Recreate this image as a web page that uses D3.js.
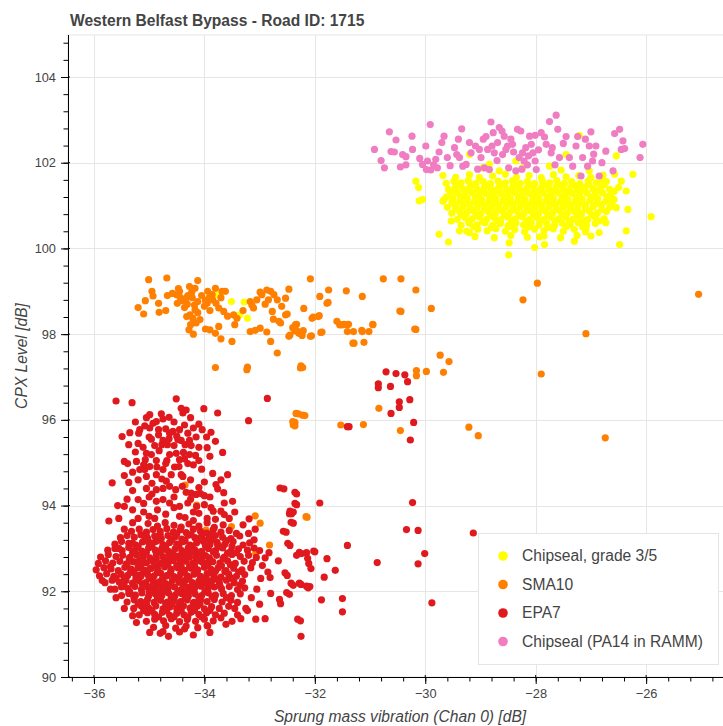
<!DOCTYPE html>
<html><head><meta charset="utf-8">
<script src="https://cdn.jsdelivr.net/npm/d3@7"></script>
<style>body{margin:0;background:#fff}svg{display:block}text{font-family:"Liberation Sans",Arial,Helvetica,sans-serif}</style>
</head><body><svg id="c" width="723" height="726"></svg>
<script>
const title = "Western Belfast Bypass - Road ID: 1715";
const xLabel = "Sprung mass vibration (Chan 0) [dB]";
const yLabel = "CPX Level [dB]";
const xTicks = [-36,-34,-32,-30,-28,-26];
const yTicks = [90,92,94,96,98,100,102,104];
const seriesNames = ["Chipseal, grade 3/5","SMA10","EPA7","Chipseal (PA14 in RAMM)"];
const seriesColors = ["#ffff00","#ff8000","#e0191e","#f07cc2"];

const chipsealPoints = [
[-29.68,101.7],[-29.45,101.66],[-29.2,101.72],[-29.02,101.65],[-28.78,101.69],[-28.55,101.73],[-28.35,101.66],[-28.12,101.7],[-27.9,101.65],[-27.68,101.72],[-27.45,101.67],[-27.22,101.7],[-27.0,101.65],[-26.78,101.71],
[-29.62,101.52],[-29.48,101.57],[-29.35,101.53],[-29.22,101.58],[-29.08,101.52],[-28.95,101.56],[-28.82,101.51],[-28.68,101.57],[-28.55,101.53],[-28.42,101.58],[-28.28,101.52],[-28.15,101.56],[-28.02,101.51],[-27.88,101.57],[-27.75,101.53],[-27.62,101.58],[-27.48,101.52],[-27.35,101.56],[-27.2,101.51],[-27.05,101.57],[-26.9,101.53],[-26.72,101.56],
[-29.58,101.38],[-29.45,101.43],[-29.32,101.39],[-29.19,101.44],[-29.06,101.38],[-28.93,101.42],[-28.8,101.37],[-28.67,101.43],[-28.54,101.39],[-28.41,101.44],[-28.28,101.38],[-28.15,101.42],[-28.02,101.37],[-27.89,101.43],[-27.76,101.39],[-27.63,101.44],[-27.5,101.38],[-27.37,101.42],[-27.24,101.37],[-27.1,101.43],[-26.96,101.39],[-26.82,101.44],[-26.66,101.38],[-26.5,101.42],
[-29.55,101.24],[-29.42,101.29],[-29.29,101.25],[-29.16,101.3],[-29.03,101.24],[-28.9,101.28],[-28.77,101.23],[-28.64,101.29],[-28.51,101.25],[-28.38,101.3],[-28.25,101.24],[-28.12,101.28],[-27.99,101.23],[-27.86,101.29],[-27.73,101.25],[-27.6,101.3],[-27.47,101.24],[-27.34,101.28],[-27.21,101.23],[-27.07,101.29],[-26.93,101.25],[-26.79,101.3],[-26.64,101.24],
[-29.68,101.1],[-29.5,101.15],[-29.37,101.11],[-29.24,101.16],[-29.11,101.1],[-28.98,101.14],[-28.85,101.09],[-28.72,101.15],[-28.59,101.11],[-28.46,101.16],[-28.33,101.1],[-28.2,101.14],[-28.07,101.09],[-27.94,101.15],[-27.81,101.11],[-27.68,101.16],[-27.55,101.1],[-27.42,101.14],[-27.29,101.09],[-27.16,101.15],[-27.02,101.11],[-26.88,101.16],[-26.73,101.1],[-26.58,101.14],
[-29.6,100.96],[-29.45,101.01],[-29.32,100.97],[-29.19,101.02],[-29.06,100.96],[-28.93,101.0],[-28.8,100.95],[-28.67,101.01],[-28.54,100.97],[-28.41,101.02],[-28.28,100.96],[-28.15,101.0],[-28.02,100.95],[-27.89,101.01],[-27.76,100.97],[-27.63,101.02],[-27.5,100.96],[-27.37,101.0],[-27.24,100.95],[-27.1,101.01],[-26.96,100.97],[-26.81,101.02],[-26.66,100.96],
[-29.52,100.82],[-29.38,100.87],[-29.25,100.83],[-29.12,100.88],[-28.99,100.82],[-28.86,100.86],[-28.73,100.81],[-28.6,100.87],[-28.47,100.83],[-28.34,100.88],[-28.21,100.82],[-28.08,100.86],[-27.95,100.81],[-27.82,100.87],[-27.69,100.83],[-27.56,100.88],[-27.43,100.82],[-27.3,100.86],[-27.17,100.81],[-27.03,100.87],[-26.88,100.83],[-26.72,100.86],
[-29.42,100.68],[-29.28,100.73],[-29.15,100.69],[-29.02,100.74],[-28.89,100.68],[-28.76,100.72],[-28.63,100.67],[-28.5,100.73],[-28.37,100.69],[-28.24,100.74],[-28.11,100.68],[-27.98,100.72],[-27.85,100.67],[-27.72,100.73],[-27.59,100.69],[-27.46,100.74],[-27.33,100.68],[-27.2,100.72],[-27.06,100.67],[-26.92,100.73],[-26.76,100.69],
[-29.35,100.54],[-29.2,100.59],[-29.06,100.55],[-28.92,100.6],[-28.78,100.54],[-28.64,100.58],[-28.5,100.53],[-28.36,100.59],[-28.22,100.55],[-28.08,100.6],[-27.94,100.54],[-27.8,100.58],[-27.66,100.53],[-27.52,100.59],[-27.38,100.55],[-27.23,100.6],[-27.08,100.54],[-26.92,100.58],
[-29.25,100.4],[-29.05,100.45],[-28.88,100.41],[-28.72,100.46],[-28.55,100.4],[-28.38,100.44],[-28.2,100.39],[-28.02,100.45],[-27.85,100.41],[-27.68,100.46],[-27.5,100.4],[-27.3,100.44],[-27.1,100.39],
[-29.1,100.28],[-28.75,100.25],[-28.45,100.3],[-28.15,100.26],[-27.85,100.29],[-27.55,100.25],[-27.25,100.3],
[-29.4,101.48],[-29.13,101.49],[-28.87,101.47],[-28.61,101.49],[-28.35,101.48],[-28.08,101.47],[-27.82,101.49],[-27.56,101.48],[-27.3,101.47],[-27.03,101.49],[-26.76,101.48],
[-29.48,101.34],[-29.23,101.35],[-28.97,101.33],[-28.71,101.35],[-28.45,101.34],[-28.19,101.33],[-27.93,101.35],[-27.67,101.34],[-27.41,101.33],[-27.15,101.35],[-26.87,101.34],[-26.58,101.33],
[-29.62,101.2],[-29.36,101.19],[-29.09,101.21],[-28.83,101.2],[-28.57,101.19],[-28.31,101.21],[-28.05,101.2],[-27.79,101.19],[-27.52,101.21],[-27.26,101.2],[-27.0,101.19],[-26.71,101.21],
[-29.52,101.06],[-29.26,101.05],[-29.0,101.07],[-28.74,101.06],[-28.48,101.05],[-28.22,101.07],[-27.96,101.06],[-27.7,101.05],[-27.44,101.07],[-27.18,101.06],[-26.9,101.05],[-26.62,101.07],
[-29.45,100.92],[-29.19,100.91],[-28.93,100.93],[-28.67,100.92],[-28.41,100.91],[-28.15,100.93],[-27.89,100.92],[-27.63,100.91],[-27.37,100.93],[-27.1,100.92],[-26.8,100.91],
[-29.35,100.78],[-29.08,100.77],[-28.82,100.79],[-28.56,100.78],[-28.3,100.77],[-28.04,100.79],[-27.78,100.78],[-27.52,100.77],[-27.25,100.79],[-26.98,100.78],
[-29.22,100.64],[-28.96,100.63],[-28.7,100.65],[-28.44,100.64],[-28.17,100.63],[-27.91,100.65],[-27.65,100.64],[-27.39,100.63],[-27.13,100.65],[-26.85,100.64],
[-29.12,100.5],[-28.8,100.49],[-28.47,100.51],[-28.12,100.5],[-27.78,100.49],[-27.45,100.51],[-27.15,100.5],
[-30.17,101.57],[-30.12,101.42],[-30.11,101.11],[-30.05,101.14],[-29.75,100.33],[-29.58,100.15],[-29.53,100.64],[-29.66,101.14],[-25.91,100.74],[-26.36,101.34],[-26.36,100.41],[-26.24,101.73],[-26.54,102.16],[-26.48,100.09],[-26.45,101.57],[-26.54,100.95],[-28.49,99.85],[-28.02,100.02],[-27.93,100.27],[-27.84,100.09],[-28.48,100.13],[-27.3,100.17],[-27.0,100.29],[-26.85,100.37],[-27.21,102.64],[-27.45,102.19],[-29.2,102.19],[-28.96,101.88],[-28.84,101.96],[-28.66,101.81],[-28.36,102.04],[-28.24,101.88],[-27.75,101.92],[-27.54,101.83],[-27.03,101.81],[-26.79,101.61],[-26.57,101.73],[-26.33,100.91],[-26.66,101.22],[-26.73,100.6],[-27.09,100.44],[-29.38,100.41],[-29.2,100.37],
[-33.75,98.92],[-33.51,98.76],[-33.28,98.75],[-33.36,98.45],[-33.22,98.37]
];

const sma10Points = [
[-35.01,99.27],[-34.68,99.31],[-34.12,99.25],[-35.07,98.78],[-34.93,98.89],[-34.83,98.72],[-34.67,98.9],[-34.82,98.51],[-35.1,98.47],[-34.5,98.92],[-34.47,99.06],[-34.44,98.86],[-34.49,98.72],[-34.33,98.84],[-34.31,98.7],[-34.27,99.11],[-34.23,98.98],[-34.17,99.07],[-34.12,98.76],[-34.17,98.57],[-34.32,98.41],[-34.26,98.45],[-34.21,98.37],[-34.15,98.26],[-34.28,98.1],[-34.2,98.0],[-33.98,98.12],[-33.94,99.0],[-33.92,98.84],[-33.95,98.72],[-33.86,98.92],[-33.8,99.07],[-33.79,98.72],[-33.74,98.61],[-33.68,99.0],[-33.62,99.0],[-33.74,98.18],[-33.8,98.02],[-33.7,97.89],[-33.65,98.53],[-33.5,97.83],[-33.47,98.45],[-33.41,98.37],[-33.17,98.76],[-33.14,98.68],[-33.11,98.61],[-33.17,98.06],[-33.08,98.09],[-32.99,98.14],[-32.96,98.92],[-32.99,98.98],[-32.87,99.03],[-32.8,99.0],[-32.74,98.92],[-32.68,98.8],[-32.84,98.8],[-32.77,98.53],[-32.87,98.05],[-32.8,97.83],[-32.68,97.56],[-32.65,98.3],[-32.62,98.26],[-32.53,98.45],[-32.53,98.84],[-32.47,99.05],[-32.47,97.95],[-32.35,98.22],[-32.33,98.08],[-32.29,98.02],[-32.23,97.97],[-32.08,99.29],[-32.08,97.95],[-32.05,98.37],[-31.94,98.41],[-31.91,98.88],[-31.89,98.04],[-31.78,98.72],[-31.75,99.03],[-31.53,98.22],[-31.47,98.23],[-31.41,98.22],[-31.41,98.06],[-31.43,99.01],[-31.3,98.06],[-31.14,98.88],[-31.14,98.06],[-31.29,97.79],[-31.11,97.81],[-31.02,98.06],[-30.95,98.22],[-30.76,99.29],[-30.44,99.29],[-30.44,98.53],[-30.17,99.03],[-30.17,98.11],[-33.8,97.22],[-33.23,97.17],[-32.26,97.21],
[-34.58,98.95],[-34.4,98.78],[-34.36,98.62],[-34.22,98.85],[-34.05,98.9],[-34.0,98.65],[-33.9,98.55],[-34.12,98.5],[-34.3,98.9],[-34.45,99.0],[-33.85,98.8],[-34.18,98.68],[-33.98,98.78],[-34.08,98.34],[-34.25,98.22],[-33.7,98.85],[-33.58,98.42],[-33.3,98.55],[-33.05,98.8],[-32.9,98.7],[-32.6,98.65],[-32.75,98.35],[-35.2,98.62],[-34.95,99.0],[-34.7,98.55],[-32.2,98.6],[-31.6,98.3],[-32.4,98.15],[-33.45,98.22],[-33.9,98.1],
[-32.5,98.47],[-32.33,98.23],[-32.36,98.08],[-32.27,98.04],[-32.21,98.08],[-32.45,97.98],[-32.06,97.96],[-32.03,98.4],[-31.92,98.43],[-31.87,98.05],[-31.76,98.74],[-31.55,98.22],[-31.5,98.22],[-31.39,98.23],[-31.15,98.09],[-30.95,98.23],[-31.31,97.79],[-30.46,98.54],[-30.19,98.12],[-29.89,98.6],[-32.22,97.22],[-32.3,96.14],[-32.18,96.1],[-32.36,95.94],[-32.36,95.86],[-31.53,95.88],[-31.12,95.89],[-30.84,96.27],[-30.45,95.75],[-30.16,97.15],[-30.16,97.03],[-29.98,97.13],[-29.73,97.51],[-29.57,97.36],[-29.67,97.11],[-29.21,95.83],[-29.04,95.63],[-32.14,93.73],
[-25.05,98.93],[-27.09,98.01],[-26.74,95.58],[-28.23,98.8],[-27.97,99.19],[-27.9,97.07],
[-33.22,97.23],[-32.25,97.26],[-32.34,96.15],[-32.22,96.11],[-32.4,95.96],[-32.39,95.88],[-34.35,94.48],[-33.08,93.76],[-32.99,93.59],[-33.51,93.51],[-32.82,93.08],[-33.07,92.89],[-32.16,93.74],[-34.14,94.01],[-33.97,93.43]
];

const epa7Points = [
[-35.02,93.58],[-34.85,93.52],[-34.71,93.6],[-34.55,93.54],[-34.42,93.5],[-34.28,93.57],[-34.1,93.52],[-33.95,93.6],[-33.82,93.49],[-33.66,93.55],
[-35.32,93.4],[-35.18,93.45],[-35.05,93.38],[-34.93,93.44],[-34.8,93.4],[-34.68,93.46],[-34.56,93.38],[-34.44,93.43],[-34.33,93.37],[-34.2,93.45],[-34.07,93.4],[-33.96,93.36],[-33.84,93.44],[-33.7,93.38],[-33.55,93.42],[-33.42,93.35],
[-35.52,93.25],[-35.4,93.3],[-35.27,93.26],[-35.15,93.32],[-35.03,93.24],[-34.9,93.29],[-34.78,93.23],[-34.66,93.3],[-34.53,93.27],[-34.41,93.22],[-34.3,93.31],[-34.17,93.25],[-34.05,93.28],[-33.93,93.22],[-33.8,93.3],[-33.67,93.26],[-33.52,93.23],[-33.36,93.29],
[-35.62,93.1],[-35.5,93.16],[-35.37,93.12],[-35.24,93.08],[-35.12,93.15],[-35.0,93.11],[-34.88,93.16],[-34.75,93.09],[-34.63,93.14],[-34.5,93.1],[-34.38,93.16],[-34.26,93.08],[-34.14,93.13],[-34.02,93.17],[-33.9,93.09],[-33.77,93.14],[-33.63,93.1],[-33.48,93.16],[-33.3,93.08],[-33.18,93.13],
[-35.75,92.96],[-35.62,93.0],[-35.49,92.95],[-35.37,93.02],[-35.25,92.97],[-35.13,92.94],[-35.01,93.01],[-34.89,92.96],[-34.77,93.0],[-34.65,92.93],[-34.53,92.99],[-34.41,92.95],[-34.29,93.02],[-34.17,92.96],[-34.05,92.93],[-33.93,93.0],[-33.8,92.95],[-33.67,93.01],[-33.52,92.94],[-33.38,92.99],[-33.22,92.96],[-33.1,93.01],
[-35.88,92.8],[-35.74,92.86],[-35.6,92.81],[-35.48,92.84],[-35.35,92.79],[-35.23,92.85],[-35.11,92.82],[-34.99,92.78],[-34.87,92.86],[-34.75,92.81],[-34.63,92.84],[-34.51,92.79],[-34.39,92.85],[-34.27,92.8],[-34.15,92.86],[-34.03,92.82],[-33.91,92.78],[-33.78,92.84],[-33.64,92.8],[-33.5,92.86],[-33.35,92.81],[-33.2,92.84],[-33.06,92.79],
[-35.92,92.65],[-35.79,92.71],[-35.66,92.66],[-35.53,92.7],[-35.41,92.64],[-35.29,92.69],[-35.17,92.72],[-35.05,92.66],[-34.93,92.7],[-34.81,92.64],[-34.69,92.69],[-34.57,92.72],[-34.45,92.65],[-34.33,92.7],[-34.21,92.66],[-34.09,92.71],[-33.97,92.64],[-33.85,92.69],[-33.72,92.66],[-33.58,92.71],[-33.44,92.65],[-33.28,92.7],[-33.13,92.67],
[-35.96,92.5],[-35.82,92.55],[-35.69,92.52],[-35.56,92.48],[-35.44,92.56],[-35.32,92.51],[-35.2,92.55],[-35.08,92.49],[-34.96,92.54],[-34.84,92.5],[-34.72,92.57],[-34.6,92.51],[-34.48,92.55],[-34.36,92.49],[-34.24,92.54],[-34.12,92.5],[-34.0,92.56],[-33.88,92.51],[-33.75,92.55],[-33.61,92.48],[-33.47,92.54],[-33.32,92.5],[-33.16,92.55],
[-35.9,92.36],[-35.77,92.41],[-35.64,92.35],[-35.51,92.4],[-35.39,92.37],[-35.27,92.42],[-35.15,92.35],[-35.03,92.4],[-34.91,92.36],[-34.79,92.42],[-34.67,92.37],[-34.55,92.34],[-34.43,92.41],[-34.31,92.36],[-34.19,92.4],[-34.07,92.35],[-33.95,92.41],[-33.83,92.37],[-33.7,92.33],[-33.56,92.4],[-33.42,92.35],[-33.27,92.39],
[-35.8,92.2],[-35.67,92.26],[-35.54,92.21],[-35.42,92.25],[-35.3,92.19],[-35.18,92.24],[-35.06,92.2],[-34.94,92.27],[-34.82,92.22],[-34.7,92.18],[-34.58,92.25],[-34.46,92.21],[-34.34,92.26],[-34.22,92.2],[-34.1,92.24],[-33.98,92.19],[-33.86,92.25],[-33.73,92.21],[-33.6,92.26],[-33.46,92.2],[-33.31,92.24],
[-35.62,92.05],[-35.5,92.1],[-35.38,92.06],[-35.26,92.11],[-35.14,92.04],[-35.02,92.09],[-34.9,92.05],[-34.78,92.11],[-34.66,92.06],[-34.54,92.1],[-34.42,92.04],[-34.3,92.09],[-34.18,92.06],[-34.06,92.12],[-33.94,92.05],[-33.82,92.1],[-33.69,92.06],[-33.55,92.11],[-33.4,92.04],[-33.27,92.08],
[-35.5,91.9],[-35.37,91.95],[-35.25,91.91],[-35.13,91.96],[-35.01,91.89],[-34.89,91.94],[-34.77,91.9],[-34.65,91.96],[-34.53,91.91],[-34.41,91.95],[-34.29,91.89],[-34.17,91.94],[-34.05,91.9],[-33.93,91.96],[-33.8,91.91],[-33.66,91.95],[-33.51,91.9],[-33.35,91.94],
[-35.4,91.75],[-35.27,91.8],[-35.15,91.76],[-35.03,91.81],[-34.91,91.74],[-34.79,91.79],[-34.67,91.75],[-34.55,91.81],[-34.43,91.76],[-34.31,91.8],[-34.19,91.74],[-34.07,91.79],[-33.95,91.76],[-33.82,91.81],[-33.68,91.75],[-33.52,91.79],[-33.4,91.74],
[-35.28,91.6],[-35.14,91.65],[-35.01,91.61],[-34.88,91.66],[-34.75,91.59],[-34.62,91.64],[-34.5,91.6],[-34.38,91.66],[-34.26,91.61],[-34.13,91.65],[-34.0,91.59],[-33.87,91.64],[-33.73,91.6],[-33.56,91.65],
[-35.18,91.45],[-35.03,91.5],[-34.9,91.46],[-34.76,91.51],[-34.63,91.44],[-34.5,91.49],[-34.37,91.45],[-34.24,91.51],[-34.1,91.46],[-33.96,91.5],[-33.8,91.45],[-33.64,91.49],
[-35.05,91.3],[-34.9,91.35],[-34.74,91.31],[-34.6,91.36],[-34.45,91.29],[-34.31,91.34],[-34.16,91.3],[-34.0,91.35],[-33.84,91.31],
[-34.92,91.16],[-34.7,91.2],[-34.52,91.14],[-34.33,91.19],[-34.12,91.15],[-33.95,91.2],
[-34.8,91.02],[-34.45,91.05],[-34.2,90.98],[-33.9,91.04],[-34.65,90.95],
[-35.08,93.2],[-34.84,93.19],[-34.59,93.21],[-34.35,93.18],[-34.1,93.22],[-33.86,93.2],
[-35.2,93.05],[-34.95,93.06],[-34.7,93.04],[-34.46,93.07],[-34.22,93.05],[-33.98,93.06],[-33.73,93.04],
[-35.3,92.9],[-35.05,92.91],[-34.8,92.92],[-34.57,92.89],[-34.33,92.91],[-34.09,92.9],[-33.84,92.92],[-33.58,92.89],
[-35.36,92.76],[-35.12,92.75],[-34.87,92.76],[-34.63,92.77],[-34.39,92.75],[-34.15,92.76],[-33.91,92.74],[-33.66,92.76],
[-35.4,92.6],[-35.15,92.61],[-34.9,92.6],[-34.66,92.62],[-34.42,92.59],[-34.18,92.6],[-33.94,92.61],[-33.69,92.6],
[-35.34,92.45],[-35.1,92.46],[-34.85,92.44],[-34.61,92.46],[-34.37,92.45],[-34.13,92.46],[-33.89,92.44],[-33.63,92.46],
[-35.24,92.3],[-35.0,92.31],[-34.76,92.29],[-34.52,92.31],[-34.28,92.3],[-34.04,92.31],[-33.79,92.29],
[-35.12,92.15],[-34.87,92.16],[-34.62,92.14],[-34.38,92.16],[-34.13,92.15],[-33.88,92.16],
[-35.0,92.0],[-34.73,92.01],[-34.48,91.99],[-34.24,92.01],[-33.99,92.0],
[-34.85,91.85],[-34.6,91.86],[-34.35,91.84],[-34.1,91.86],
[-34.7,91.7],[-34.45,91.71],[-34.2,91.7],
[-35.55,93.0],[-35.3,93.12],[-35.05,93.28],[-34.8,93.33],[-34.5,93.34],[-34.24,93.32],[-33.9,93.33],[-33.6,93.18],[-33.42,92.9],
[-35.7,92.58],[-35.6,92.3],[-35.45,92.12],[-35.35,91.98],[-35.2,91.7],[-35.1,91.55],
[-34.97,93.13],[-34.72,92.98],[-34.47,92.82],[-34.23,92.93],[-33.98,92.83],[-33.76,93.08],[-33.5,93.05],
[-35.23,92.68],[-34.98,92.53],[-34.75,92.68],[-34.5,92.6],[-34.27,92.57],[-34.03,92.68],[-33.8,92.47],[-33.53,92.62],[-33.38,92.45],
[-35.45,92.3],[-35.18,92.38],[-34.95,92.12],[-34.7,92.35],[-34.45,92.28],[-34.2,92.12],[-33.96,92.28],[-33.72,92.13],[-33.5,92.3],[-33.35,92.15],
[-35.28,91.88],[-35.05,91.7],[-34.83,91.98],[-34.58,91.72],[-34.33,91.98],[-34.08,91.7],[-33.86,91.88],[-33.6,91.85],[-33.45,91.6],
[-34.95,91.55],[-34.68,91.55],[-34.42,91.55],[-34.18,91.55],[-33.9,91.55],[-33.7,91.38],[-34.55,91.4],[-34.83,91.4],[-34.3,91.4],[-34.05,91.4],
[-33.2,93.35],[-33.1,93.2],[-33.0,92.95],[-32.95,92.6],[-32.98,92.3],[-33.05,92.05],[-33.15,91.85],[-33.25,91.6],[-33.4,91.45],[-33.5,91.3],[-32.9,92.78],[-32.85,92.45],[-33.08,93.45],[-33.3,93.55],[-32.8,91.95],[-33.0,91.7],
[-34.99,91.04],[-34.75,91.06],[-34.36,91.12],[-33.94,91.19],[-33.61,91.23],[-35.3,91.43],[-35.23,91.27],[-33.34,91.36],[-35.45,91.6],[-35.6,91.85],[-35.7,92.05],[-35.85,92.25],[-33.22,91.55],
[-35.6,96.44],[-35.31,96.4],[-34.51,96.49],[-34.42,96.27],[-34.33,96.23],[-34.39,96.16],[-34.01,96.26],[-33.76,96.16],[-34.99,96.12],[-34.78,96.14],[-34.75,96.02],[-34.64,96.06],[-34.87,95.96],[-34.93,95.92],[-35.08,95.86],[-35.17,95.77],[-35.19,95.69],[-34.99,95.81],[-34.83,95.77],[-34.7,95.79],[-34.63,95.69],[-34.57,95.73],[-34.45,95.77],[-34.36,95.88],[-34.3,95.69],[-34.2,95.81],[-34.04,95.77],[-33.88,95.71],[-33.96,95.6],[-35.49,95.61],[-34.96,95.55],[-34.83,95.65],[-34.75,95.52],[-34.64,95.56],[-34.48,95.54],[-34.42,95.52],[-34.27,95.52],[-35.37,95.42],[-35.11,95.36],[-34.77,95.42],[-34.67,95.42],[-34.24,95.4],[-34.38,95.24],[-34.51,95.22],[-34.63,95.19],[-34.96,95.19],[-34.27,95.19],[-34.16,95.17],[-34.1,95.36],[-33.67,95.24],[-35.45,95.03],[-35.39,94.98],[-35.23,95.03],[-35.07,95.07],[-34.87,95.05],[-34.68,95.05],[-34.45,95.07],[-34.36,95.09],[-35.17,94.84],[-35.08,94.84],[-34.99,94.91],[-34.86,94.9],[-34.75,94.84],[-34.54,94.9],[-34.46,94.91],[-34.2,94.95],[-35.3,94.78],[-35.67,94.53],[-35.37,94.54],[-35.05,94.68],[-34.87,94.72],[-34.77,94.62],[-34.69,94.57],[-34.42,94.72],[-34.39,94.68],[-33.79,94.49],[-33.76,94.39],[-33.58,94.72],[-34.87,94.37],[-34.95,94.27],[-34.63,94.45],[-34.52,94.37],[-34.33,94.31],[-34.24,94.29],[-34.15,94.26],[-34.07,94.28],[-34.0,94.23],[-35.57,94.0],[-35.45,93.98],[-35.73,93.64],[-35.2,94.14],[-35.1,94.05],[-34.87,94.1],[-34.75,94.14],[-34.63,94.06],[-34.45,93.98],[-34.3,94.06],[-34.14,93.98],[-34.0,94.02],[-33.88,93.95],[-33.84,93.87],[-33.64,94.06],[-33.49,94.1],[-33.7,93.87],[-33.64,93.79],[-33.19,93.69],
[-35.0,93.75],[-34.7,93.8],[-34.35,93.72],[-34.1,93.82],[-33.55,93.7],[-35.3,93.6],[-35.45,93.45],
[-35.25,95.95],[-35.05,96.05],[-34.55,95.95],[-34.25,96.05],[-34.1,95.9],[-35.35,95.7],[-35.0,95.6],[-34.5,95.62],[-34.15,95.6],[-33.8,95.5],[-35.2,95.45],[-34.9,95.4],[-34.55,95.4],[-34.35,95.42],[-33.95,95.35],[-35.25,95.25],[-35.05,95.22],[-34.82,95.28],[-34.1,95.05],[-33.9,95.15],[-35.1,94.95],[-34.7,94.98],[-34.3,94.98],[-34.05,94.85],[-33.85,94.75],[-35.45,94.7],[-35.2,94.6],[-34.95,94.52],[-34.6,94.72],[-34.25,94.6],[-34.0,94.55],[-33.7,94.6],[-35.3,94.35],[-35.05,94.4],[-34.75,94.4],[-34.4,94.45],[-34.1,94.42],[-33.9,94.2],[-35.4,94.15],[-35.0,94.2],[-34.55,94.2],[-34.25,94.15],[-33.65,94.3],[-35.3,93.9],[-35.1,93.85],[-34.85,93.9],[-34.55,93.95],[-34.2,93.85],[-33.95,93.7],[-33.45,93.85],[-35.55,93.7],[-35.2,93.7],[-34.9,93.7],[-34.45,93.75],[-34.2,93.65],[-33.8,93.68],
[-32.86,96.5],[-33.2,95.98],[-32.63,94.41],[-32.36,94.31],[-32.36,94.05],[-32.45,93.87],[-32.46,93.81],[-32.43,93.61],[-32.57,93.4],[-32.49,93.12],[-32.28,92.91],[-32.15,92.9],[-32.02,92.94],[-32.83,92.9],[-32.66,92.71],[-32.54,92.43],[-32.81,92.32],[-32.43,92.19],[-32.28,92.19],[-32.15,92.12],[-32.11,92.65],[-32.64,91.81],[-32.62,91.71],[-32.51,91.97],[-33.07,91.35],[-32.9,91.36],[-32.31,91.35],[-32.25,90.95],
[-30.71,97.12],[-30.53,97.08],[-30.37,97.05],[-30.32,96.89],[-30.85,96.84],[-30.85,96.75],[-30.63,96.78],[-30.47,96.42],[-30.47,96.29],[-30.28,96.47],[-30.62,96.15],[-30.21,95.94],[-30.27,95.53],[-31.41,95.84],[-31.38,95.84],[-32.56,94.39],[-32.33,94.27],[-32.33,94.02],[-31.91,94.06],[-32.39,93.85],[-32.42,93.81],[-32.39,93.59],[-32.52,93.38],[-32.45,93.07],[-32.33,92.84],[-32.24,92.88],[-32.13,92.77],[-32.0,92.92],[-31.78,92.76],[-32.07,92.53],[-31.83,92.33],[-31.63,92.49],[-32.5,92.37],[-32.39,92.14],[-32.25,92.16],[-32.09,92.11],[-32.12,92.08],[-32.46,91.93],[-31.88,91.8],[-31.5,91.83],[-31.5,91.52],[-32.26,91.31],[-31.41,93.07],[-30.87,92.67],[-30.23,94.07],[-30.34,93.44],[-30.13,93.42],[-30.01,92.88],[-30.13,92.64],[-29.88,91.73],[-29.13,93.36]
];

const pa14Points = [
[-30.92,102.31],[-30.65,102.72],[-30.53,102.53],[-30.74,101.88],[-30.62,102.26],[-30.56,102.25],[-30.41,102.19],[-30.35,102.14],[-30.35,101.95],[-30.24,102.62],[-30.23,102.31],[-29.99,102.39],[-29.91,102.89],[-30.05,101.96],[-29.96,102.04],[-29.98,101.84],[-29.9,101.83],[-29.81,102.08],[-29.78,101.88],[-29.7,102.47],[-29.66,102.62],[-29.6,102.12],[-29.47,102.35],[-29.43,102.19],[-29.34,102.79],[-29.38,102.12],[-29.32,101.92],[-29.26,101.96],[-29.2,102.47],[-29.17,102.23],[-29.09,102.39],[-29.02,102.31],[-28.99,102.12],[-28.93,101.88],[-28.9,102.61],[-28.87,102.31],[-28.81,102.95],[-28.79,102.39],[-28.77,102.7],[-28.75,102.23],[-28.69,102.47],[-28.66,102.82],[-28.61,102.74],[-28.6,102.19],[-28.57,102.62],[-28.54,102.31],[-28.51,102.39],[-28.49,101.88],[-28.42,102.43],[-28.36,101.81],[-28.33,102.78],[-28.3,102.12],[-28.27,102.74],[-28.24,102.23],[-28.21,102.04],[-28.18,102.35],[-28.13,102.16],[-28.11,102.62],[-28.08,102.43],[-28.05,102.23],[-28.01,102.64],[-28.01,102.04],[-27.99,101.84],[-27.9,102.7],[-27.84,102.6],[-27.81,102.43],[-27.75,102.96],[-27.72,102.23],[-27.7,102.35],[-27.63,103.11],[-27.6,102.78],[-27.57,102.12],[-27.45,102.61],[-27.39,102.12],[-27.33,101.92],[-27.27,102.39],[-27.24,102.61],[-27.18,101.69],[-27.15,102.12],[-27.06,101.92],[-27.03,102.39],[-27.0,102.72],[-26.97,102.04],[-26.91,102.39],[-26.85,101.69],[-26.73,102.27],[-26.6,101.81],[-26.57,102.68],[-26.48,102.78],[-26.45,102.31],[-26.42,102.51],[-26.39,102.33],[-26.11,102.12],[-26.06,102.43],[-28.84,101.84],
[-30.1,102.1],[-29.55,101.93],[-29.05,101.85],[-28.7,102.05],[-28.45,102.55],[-28.15,101.95],[-27.95,102.3],[-27.5,102.45],[-27.1,102.55],[-26.8,102.0],[-29.75,102.25],[-29.4,102.55],[-28.95,102.55],[-28.4,102.25],[-27.65,101.95],[-26.95,102.2],[-30.45,101.9],[-30.8,102.05],[-29.85,101.95],[-28.25,101.85]
];

const seriesData = [chipsealPoints, sma10Points, epa7Points, pa14Points];

const L = 68, T = 35, B = 677, R = 740, W = 723;
const svg = d3.select("#c");
const x = d3.scaleLinear().domain([-36.47, -24.3]).range([L, R]);
const y = d3.scaleLinear().domain([90, 104.98]).range([B, T]);

svg.append("rect").attr("x", L).attr("y", T).attr("width", R - L).attr("height", B - T)
  .attr("fill", "none").attr("stroke", "#e5e5e5").attr("stroke-width", 1);

const grid = svg.append("g").attr("stroke", "#e6e6e6").attr("stroke-width", 1);
xTicks.forEach(v => grid.append("line").attr("x1", Math.round(x(v)) + 0.5).attr("x2", Math.round(x(v)) + 0.5).attr("y1", T).attr("y2", B));
yTicks.filter(v => v > 90).forEach(v => grid.append("line").attr("y1", Math.round(y(v)) + 0.5).attr("y2", Math.round(y(v)) + 0.5).attr("x1", L).attr("x2", W));

svg.append("clipPath").attr("id", "clip").append("rect").attr("x", L).attr("y", T).attr("width", R - L).attr("height", B - T);
const pg = svg.append("g").attr("clip-path", "url(#clip)");
seriesData.forEach((pts, i) => {
  pg.append("g").selectAll("circle").data(pts).join("circle")
    .attr("cx", d => x(d[0])).attr("cy", d => y(d[1])).attr("r", 3.6)
    .attr("fill", seriesColors[i]);
});

const minorX = d3.range(-36.4, -24.3, 0.4).map(v => +v.toFixed(1));
const minorY = d3.range(90, 105, 0.4).map(v => +v.toFixed(1));
const xAx = svg.append("g").attr("transform", `translate(0,${B})`)
  .call(d3.axisBottom(x).tickValues(xTicks).tickSizeInner(7).tickSizeOuter(0).tickPadding(5).tickFormat(d3.format("d")));
svg.append("g").attr("transform", `translate(0,${B})`)
  .call(d3.axisBottom(x).tickValues(minorX).tickSizeInner(4.5).tickSizeOuter(0).tickFormat(""))
  .select(".domain").remove();
const yAx = svg.append("g").attr("transform", `translate(${L},0)`)
  .call(d3.axisLeft(y).tickValues(yTicks).tickSizeInner(7).tickSizeOuter(0).tickPadding(5).tickFormat(d3.format("d")));
svg.append("g").attr("transform", `translate(${L},0)`)
  .call(d3.axisLeft(y).tickValues(minorY).tickSizeInner(4.5).tickSizeOuter(0).tickFormat(""))
  .select(".domain").remove();
xTicks.forEach(v => svg.append("line").attr("x1", x(v)).attr("x2", x(v)).attr("y1", B).attr("y2", B - 2).attr("stroke", "#000"));
yTicks.forEach(v => svg.append("line").attr("y1", y(v)).attr("y2", y(v)).attr("x1", L).attr("x2", L + 2).attr("stroke", "#000"));
svg.selectAll(".domain").attr("stroke", "#000");
svg.selectAll(".tick line").attr("stroke", "#000");
[xAx, yAx].forEach(a => a.selectAll("text").attr("font-size", "12.8px").attr("fill", "#444")
  .attr("font-family", '"Liberation Sans",Arial,sans-serif'));
xAx.select(".domain").attr("d", `M${L},0.5H${W}`);
yAx.select(".domain").attr("d", `M0.5,${T}V${B}`);

svg.append("text").attr("x", 70).attr("y", 26).attr("font-size", "15.6px").attr("font-weight", "bold")
  .attr("fill", "#444").text(title);
svg.append("text").attr("x", 400).attr("y", 722).attr("text-anchor", "middle").attr("font-size", "15.6px")
  .attr("font-style", "italic").attr("fill", "#444").text(xLabel);
svg.append("text").attr("transform", "rotate(-90)").attr("x", -(T + B) / 2).attr("y", 27)
  .attr("text-anchor", "middle").attr("font-size", "15.6px").attr("font-style", "italic").attr("fill", "#444").text(yLabel);

const lg = svg.append("g");
lg.append("rect").attr("x", 478.5).attr("y", 533.5).attr("width", 240).attr("height", 131)
  .attr("fill", "#fff").attr("fill-opacity", 0.95).attr("stroke", "#e5e5e5");
seriesNames.forEach((n, i) => {
  const cy = 556 + i * 28.5;
  lg.append("circle").attr("cx", 503).attr("cy", cy).attr("r", 4.8).attr("fill", seriesColors[i]);
  lg.append("text").attr("x", 522).attr("y", cy).attr("dy", "0.35em").attr("font-size", "15.6px")
    .attr("fill", "#444").text(n);
});
</script></body></html>
